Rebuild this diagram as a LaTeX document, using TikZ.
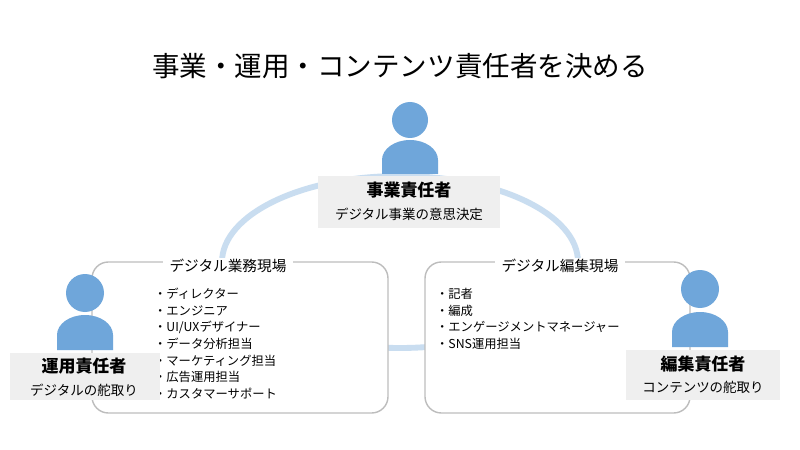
\documentclass[tikz,border=0pt]{standalone}
\usepackage{fontspec}
\setmainfont{Noto Sans CJK JP}
\usetikzlibrary{positioning}
\definecolor{personblue}{HTML}{6FA6DA}
\definecolor{ringblue}{HTML}{C9DDF0}
\definecolor{labelgray}{HTML}{EFEFEF}
\definecolor{framegray}{HTML}{BDBDBD}
\begin{document}
\begin{tikzpicture}
[
  x=0.03cm, y=-0.03cm,
	person/.style={fill=personblue,draw=none},
	role/.style={fill=labelgray,draw=none,align=center,inner sep=0pt},
	field/.style={draw=framegray,line width=1.2pt,fill=white,rounded corners=14},
	fieldtitle/.style={fill=white,inner xsep=6pt,inner ysep=1pt,font=\fontsize{12.5}{14}\selectfont},
	items/.style={align=left,anchor=north west,font=\fontsize{10.5}{14.2}\selectfont}
]
\useasboundingbox[fill=white] (0,0) rectangle (800,450);

% title
\node (title) at (400,66) {\fontsize{23.5}{28}\selectfont 事業・運用・コンテンツ責任者を決める};

% ring
\draw[ringblue,line width=5pt] (400,262) ellipse (178 and 86);

% top person
\fill[person] (410,120) circle (18);
\fill[person] (382,174) -- (382,160) arc (180:360:28 and 20) -- (438,174) -- cycle;
\fill[role] (318,176) rectangle (500,228);
\node (biz) at (409,190) {\fontsize{14.5}{16}\selectfont\bfseries 事業責任者};
\node[below=1pt of biz] (bizsub) {\fontsize{11.5}{13}\selectfont デジタル事業の意思決定};

% fields
\draw[field] (92,262) rectangle (388,413);
\draw[field] (425,262) rectangle (690,413);
\node[fieldtitle] (opsfield) at (228,266) {デジタル業務現場};
\node[fieldtitle] (edfield) at (560,266) {デジタル編集現場};

\node[items] (opslist) at (150,284) {・ディレクター\\・エンジニア\\・UI/UXデザイナー\\・データ分析担当\\・マーケティング担当\\・広告運用担当\\・カスタマーサポート};
\node[items] (edlist) at (432,284) {・記者\\・編成\\・エンゲージメントマネージャー\\・SNS運用担当};

% left person
\fill[person] (85,293) circle (19);
\fill[person] (57,350) -- (57,335) arc (180:360:28 and 20) -- (113,350) -- cycle;
\fill[role] (10,353) rectangle (160,400);
\node (ops) at (84,366) {\fontsize{14.5}{16}\selectfont\bfseries 運用責任者};
\node[below=1pt of ops] (opssub) {\fontsize{11.5}{13}\selectfont デジタルの舵取り};

% right person
\fill[person] (700,289) circle (19);
\fill[person] (672,347) -- (672,332) arc (180:360:28 and 20) -- (728,347) -- cycle;
\fill[role] (626,350) rectangle (780,400);
\node (ed) at (703,364) {\fontsize{14.5}{16}\selectfont\bfseries 編集責任者};
\node[below=1pt of ed] (edsub) {\fontsize{11.5}{13}\selectfont コンテンツの舵取り};

\end{tikzpicture}
\end{document}
